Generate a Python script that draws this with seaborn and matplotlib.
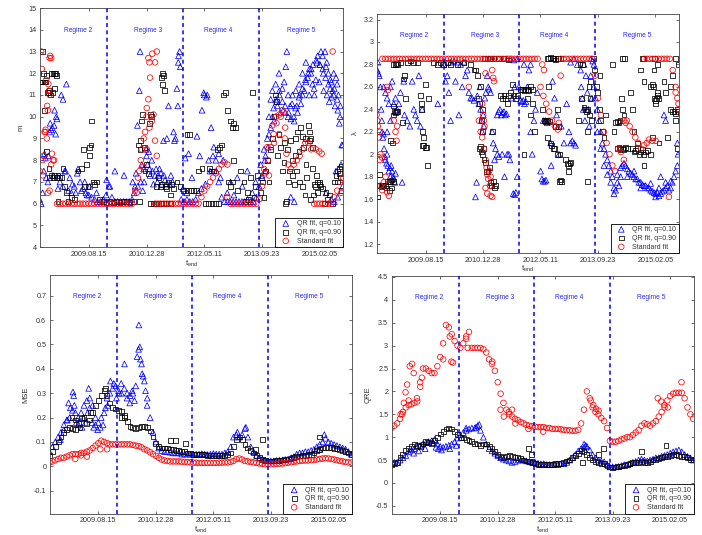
import numpy as np
import pandas as pd
import matplotlib
matplotlib.use("Agg")
import matplotlib.pyplot as plt
import seaborn as sns
from matplotlib.transforms import blended_transform_factory
from matplotlib.ticker import FuncFormatter

sns.set_theme(style="white")
plt.rcParams['font.family'] = ['Liberation Sans', 'DejaVu Sans']

# ---------------- data ----------------
# t_end in days relative to 2009.08.15, window ends sampled every 25 days
t_end = np.arange(-425, 2201, 25)
tick_days = [0, 500, 1000, 1500, 2000]
tick_labels = ['2009.08.15', '2010.12.28', '2012.05.11', '2013.09.23', '2015.02.05']
regime_bounds = [160, 812, 1475]
regime_names = ['Regime 2', 'Regime 3', 'Regime 4', 'Regime 5']
regime_centers = [-95, 518, 1120, 1837]
series_labels = ['QR fit, q=0.10', 'QR fit, q=0.90', 'Standard fit']

# ---- panel 1 : m ----
m_q10 = [6.2, 6.5, 8.1, 8.2, 9.4, 9.6, 9.9, 7.0, 6.8, 7.5,
         6.6, 6.5, 6.8, 7.4, 7.0, 6.7, 6.5, 6.4, 6.3, 6.2,
         6.1, 6.1, 6.2, 6.4, 6.8, 6.3, 6.1, 6.1, 6.1, 6.1,
         6.1, 6.1, 6.2, 6.8, 6.8, 7.0, 7.6, 8.2, 7.6, 7.5,
         7.3, 7.3, 7.4, 7.3, 6.9, 6.9, 7.0, 9.0, 12.5, 6.2,
         6.1, 6.2, 6.1, 6.1, 6.2, 6.5, 6.7, 11.0, 11.0, 7.5,
         8.2, 8.0, 7.0, 6.3, 6.1, 6.1, 6.1, 6.1, 6.1, 6.1,
         6.1, 6.1, 6.2, 6.1, 6.1, 6.3, 6.8, 7.3, 8.0, 8.6,
         9.5, 10.4, 10.7, 11.0, 11.3, 10.2, 10.0, 9.9, 10.0, 10.5,
         11.0, 11.3, 11.7, 12.0, 12.2, 11.3, 12.5, 12.4, 12.2, 11.8,
         11.5, 11.6, 11.3, 10.8, 10.0, 8.7]
m_q10_extra = [(-412, 6.0), (-389, 7.5), (-383, 8.3), (-368, 7.2), (-354, 7.0), (-339, 9.3), (-334, 9.7),
               (-316, 9.5), (-310, 7.3), (-296, 10.3), (-287, 9.2), (-281, 10.0), (-267, 6.7), (-258, 7.2),
               (-238, 11.0), (-223, 10.8), (-209, 7.5), (-194, 11.5), (-165, 7.2), (-142, 6.9), (-113, 6.5),
               (-93, 7.6), (-64, 6.6), (-35, 7.0), (-15, 6.4), (9, 6.8), (67, 6.5), (154, 7.1), (183, 6.8),
               (226, 7.5), (305, 7.3), (380, 7.0), (392, 6.5), (409, 7.4), (421, 9.6), (438, 11.2), (444, 13.0),
               (458, 7.8), (467, 6.6), (479, 7.0), (496, 8.5), (508, 7.8), (519, 8.4), (531, 7.3), (545, 8.0),
               (560, 6.9), (583, 7.6), (595, 7.0), (612, 7.6), (632, 6.9), (647, 8.9), (661, 7.1), (676, 9.0),
               (690, 10.5), (711, 7.3), (734, 9.3), (742, 8.9), (763, 11.3), (771, 10.5), (777, 12.8), (786, 13.0),
               (792, 12.3), (815, 6.7), (835, 8.1), (850, 6.5), (864, 8.3), (893, 7.2), (937, 9.1), (960, 8.2),
               (980, 10.3), (995, 11.1), (1009, 6.9), (1018, 10.9), (1038, 8.0), (1059, 9.5), (1082, 8.6),
               (1105, 7.5), (1125, 8.3), (1140, 7.2), (1163, 8.0), (1198, 6.5), (1227, 7.0), (1256, 6.4),
               (1285, 7.2), (1328, 6.8), (1372, 7.5), (1415, 6.5), (1444, 7.0), (1488, 7.8), (1517, 8.5),
               (1531, 7.5), (1546, 9.0), (1560, 10.0), (1575, 10.8), (1589, 11.2), (1604, 9.8), (1618, 11.5),
               (1633, 10.5), (1647, 12.0), (1662, 10.2), (1676, 10.7), (1691, 11.6), (1705, 12.3), (1714, 13.0),
               (1726, 11.0), (1743, 10.5), (1763, 11.0), (1778, 9.8), (1792, 11.2), (1807, 10.2), (1821, 11.5),
               (1836, 10.6), (1850, 12.0), (1865, 11.2), (1879, 12.5), (1894, 11.8), (1908, 11.0), (1923, 12.0),
               (1937, 11.5), (1952, 11.0), (1966, 11.7), (1981, 12.8), (1995, 11.6), (2010, 13.0), (2024, 12.8),
               (2033, 11.2), (2045, 13.0), (2053, 12.3), (2062, 11.0), (2074, 12.0), (2082, 10.7), (2091, 11.7),
               (2103, 10.9), (2111, 11.2), (2120, 12.0), (2132, 10.5), (2140, 11.8), (2155, 10.3), (2161, 11.0),
               (2169, 9.7), (2178, 10.5), (2184, 7.8), (2190, 8.7), (2198, 6.8), (2140, 7.5), (2097, 6.2),
               (2053, 6.5), (2126, 6.1), (2155, 6.3), (1749, 6.3), (1778, 6.1),
               (1500, 7.2), (1530, 8.2), (1560, 9.2), (1590, 10.0), (1620, 10.8), (1650, 11.2), (1700, 10.5),
               (1730, 10.2), (1760, 10.6), (1790, 10.4), (1820, 10.9), (1850, 11.0), (1880, 11.6), (1910, 12.2),
               (1940, 12.4), (1970, 12.6), (2000, 12.4), (2030, 12.0), (2060, 12.5), (2090, 11.3), (2120, 11.0),
               (2150, 11.5)]
m_q90_pts = [(-421, 11.6), (-409, 11.6), (-397, 11.6), (-386, 11.6), (-374, 11.6), (-403, 13.0), (-389, 12.0),
             (-383, 10.3), (-368, 11.9), (-360, 11.1), (-348, 11.1), (-339, 11.2), (-331, 11.0), (-322, 12.0),
             (-310, 12.0), (-299, 12.0), (-287, 12.0), (-276, 11.9), (-310, 11.1), (-296, 11.3), (-339, 7.2),
             (-325, 7.3), (-310, 7.2), (-296, 7.3), (-281, 7.2), (-267, 7.3), (-252, 7.2), (-238, 7.2),
             (-368, 8.4), (-345, 7.6), (-267, 6.1), (-223, 7.6), (-209, 6.8), (-194, 6.5), (-180, 6.1),
             (-151, 6.3), (-122, 6.2), (-93, 7.5), (-64, 7.6), (-35, 6.8), (-20, 7.8), (-6, 6.8), (3, 8.2),
             (9, 8.6), (20, 8.7), (26, 9.8), (38, 7.0), (52, 6.9), (67, 7.0), (-49, 8.5), (96, 6.2),
             (125, 6.1), (154, 6.05), (183, 6.1), (212, 6.05), (241, 6.1), (270, 6.05), (299, 6.1), (328, 6.1),
             (357, 6.05), (386, 6.1),
             (429, 8.7), (444, 8.5), (450, 8.9), (458, 9.8), (467, 10.1), (479, 8.6), (487, 7.5), (502, 7.8),
             (516, 7.4), (438, 6.1), (525, 9.7), (537, 10.1), (545, 10.0), (632, 11.8), (641, 12.0), (647, 11.9),
             (635, 11.5), (653, 11.2), (589, 6.8), (603, 7.2), (618, 6.8), (632, 6.9), (661, 6.8), (676, 6.7),
             (690, 7.0), (705, 6.4), (719, 6.9), (734, 6.7), (763, 7.0), (792, 6.8), (531, 6.0), (560, 6.0),
             (589, 6.0), (618, 6.0), (647, 6.0), (676, 6.0), (705, 6.0),
             (821, 6.6), (850, 6.6), (879, 6.6), (908, 6.6), (931, 6.6), (850, 9.2), (873, 9.2), (951, 7.5),
             (980, 7.6), (1009, 6.0), (1038, 6.0), (1067, 6.0), (1096, 6.0), (1125, 6.0), (1047, 7.6),
             (1059, 7.5), (1082, 7.5), (1111, 8.5), (1134, 8.6), (1146, 8.7), (1169, 11.0), (1183, 11.1),
             (1198, 10.3), (1227, 9.8), (1241, 9.5), (1256, 9.7), (1270, 9.5), (1256, 8.0), (1212, 7.0),
             (1227, 6.8), (1241, 7.0), (1285, 6.6), (1314, 7.5), (1343, 7.0), (1372, 6.5), (1401, 7.2),
             (1415, 11.1), (1430, 6.3), (1444, 6.8), (1459, 7.3), (1357, 6.1), (1386, 6.2),
             (1488, 6.5), (1502, 7.0), (1517, 6.3), (1531, 7.5), (1546, 8.0), (1560, 7.0), (1575, 8.5),
             (1589, 9.0), (1604, 10.0), (1618, 11.0), (1627, 10.7), (1633, 8.2), (1647, 9.2), (1662, 8.6),
             (1676, 7.5), (1691, 8.8), (1705, 6.0), (1714, 6.1), (1726, 7.0), (1734, 7.5), (1749, 8.9),
             (1763, 7.3), (1778, 6.9), (1792, 8.2), (1801, 7.5), (1807, 9.3), (1821, 7.0), (1836, 9.5),
             (1850, 6.8), (1859, 8.6), (1871, 6.4), (1879, 9.0), (1888, 7.2), (1900, 9.6), (1908, 8.9),
             (1917, 6.2), (1923, 9.0), (1937, 8.6), (1946, 6.4), (1952, 6.9), (1966, 6.8), (1981, 7.0),
             (1995, 6.9), (2010, 6.8), (2024, 6.7), (1981, 6.5), (2039, 6.0), (2053, 6.5), (2068, 6.2),
             (2082, 6.4), (2111, 6.0), (2126, 7.0), (2140, 7.3), (2155, 7.5), (2169, 7.6), (2178, 7.2),
             (2184, 7.7), (2190, 6.6), (1760, 8.0), (1790, 9.0), (1820, 8.4), (1850, 9.1), (1880, 7.8),
             (1910, 9.3), (1940, 7.6), (1970, 7.3), (2000, 7.0), (1720, 8.5), (1690, 7.9), (2150, 7.0),
             (2170, 7.4)]
m_std = [7.5, 8.0, 9.3, 11.5, 12.7, 8.0, 6.0, 6.0, 6.0, 6.0,
         6.0, 6.0, 6.0, 6.0, 6.0, 6.0, 6.0, 6.0, 6.0, 6.0,
         6.0, 6.0, 6.0, 6.0, 6.0, 6.0, 6.0, 6.0, 6.0, 6.0,
         6.0, 6.0, 6.0, 6.6, 7.2, 8.0, 9.0, 10.0, 12.5, 12.9,
         6.0, 6.0, 6.0, 6.0, 6.0, 6.0, 6.0, 6.0, 6.0, 6.0,
         6.0, 6.0, 6.0, 6.0, 6.0, 6.0, 6.3, 6.6, 6.8, 7.0,
         7.2, 7.4, 7.6, 7.8, 7.9, 7.8, 6.0, 6.0, 6.0, 6.0,
         6.0, 6.0, 6.0, 6.0, 6.0, 6.0, 6.2, 6.8, 7.4, 8.0,
         8.6, 9.2, 9.7, 10.1, 10.3, 9.5, 7.8, 7.6, 7.8, 8.0,
         8.2, 8.5, 8.8, 8.8, 8.5, 6.0, 6.0, 6.0, 6.0, 6.0,
         6.0, 6.0, 6.3, 6.6, 7.0, 7.2]
m_std_extra = [(-412, 13.0), (-406, 12.2), (-397, 7.3), (-392, 8.2), (-374, 9.4), (-368, 11.7), (-360, 10.5),
               (-354, 10.3), (-345, 11.2), (-339, 12.7), (-334, 12.8), (-325, 7.8), (-319, 8.3), (-354, 6.5),
               (-339, 6.6), (-383, 9.3), (-310, 8.0), (-339, 11.0), (-363, 9.0),
               (415, 6.5), (438, 7.5), (458, 8.5), (473, 7.7), (487, 9.3), (502, 10.4), (516, 10.8), (531, 11.8),
               (545, 9.8), (560, 10.1), (574, 8.9), (589, 8.2), (574, 12.5), (589, 13.0), (516, 12.7),
               (525, 9.5), (502, 8.5), (1198, 6.3),
               (1517, 7.6), (1546, 8.6), (1560, 7.3), (1589, 9.6), (1604, 8.8), (1618, 10.0), (1647, 9.2),
               (1662, 10.0), (1685, 10.2), (1697, 9.0), (1711, 8.3), (1966, 8.5), (1995, 8.4), (2016, 8.3),
               (2111, 13.0), (2184, 6.5)]

# ---- panel 2 : lambda ----
lam_q10_pts = [(-420, 2.75), (-415, 2.82), (-409, 2.72), (-403, 2.7), (-392, 2.6), (-386, 2.4), (-380, 2.3),
               (-377, 2.2), (-371, 2.15), (-365, 2.18), (-360, 2.05), (-354, 1.98), (-348, 1.95), (-339, 1.92),
               (-334, 2.0), (-328, 1.9), (-319, 1.85), (-310, 1.88), (-305, 1.8), (-299, 1.9), (-290, 1.85),
               (-281, 1.8), (-276, 1.78), (-267, 1.75), (-261, 1.83), (-363, 2.6), (-348, 2.55), (-334, 2.5),
               (-319, 2.45), (-305, 2.6), (-290, 2.65), (-276, 2.45), (-261, 2.5), (-247, 2.4), (-232, 2.45),
               (-218, 2.55), (-203, 1.75), (-189, 2.65), (-183, 2.35), (-160, 2.3), (-136, 2.25), (-116, 2.65),
               (-102, 2.4), (-87, 2.35), (-73, 2.3), (-58, 2.7), (-44, 2.25), (-29, 2.4), (107, 2.45),
               (160, 2.8), (174, 2.65), (189, 2.7), (203, 2.55), (218, 2.3), (-305, 2.3), (-334, 2.2),
               (218, 2.82), (247, 2.83), (276, 2.82), (305, 2.8), (334, 2.82), (363, 2.75), (261, 2.65),
               (290, 2.35), (319, 2.6), (348, 2.7), (377, 2.55), (392, 2.5), (406, 2.5), (421, 2.48),
               (435, 1.62), (444, 1.75), (450, 2.52), (464, 2.45), (473, 2.6), (479, 2.4), (487, 2.3),
               (493, 2.2), (502, 2.35), (508, 2.25), (516, 2.5), (525, 2.55), (537, 2.7), (546, 2.6),
               (554, 2.58), (566, 2.55), (580, 2.2), (589, 2.1), (600, 1.95), (609, 2.05), (624, 2.35),
               (635, 2.38), (647, 2.4), (658, 2.35), (670, 2.37), (682, 2.38), (693, 2.35), (705, 2.36),
               (624, 2.0), (638, 1.98), (667, 2.0), (687, 1.8), (711, 2.0), (725, 2.0), (734, 1.95),
               (711, 2.85), (740, 2.85), (769, 2.84), (798, 2.85), (754, 2.5), (775, 2.6), (763, 1.65),
               (775, 1.64), (786, 1.66), (798, 1.8), (812, 2.6), (827, 2.48), (838, 2.47), (850, 2.48),
               (861, 2.45), (873, 2.47), (885, 2.6), (899, 2.75), (914, 2.2), (928, 2.0), (943, 2.3),
               (957, 2.4), (856, 2.8), (914, 2.8), (972, 2.55),
               (1001, 1.85), (1012, 1.78), (1024, 1.76), (1036, 1.76), (1047, 1.77), (1024, 2.3), (1042, 2.3),
               (1059, 2.28), (1073, 2.3), (1088, 2.1), (1093, 1.9), (1105, 2.65), (1122, 2.5), (1140, 2.35),
               (1160, 2.0), (1180, 2.25), (1204, 2.1), (1227, 2.45), (1247, 2.2), (1262, 2.1), (1276, 2.12),
               (1291, 2.1), (1305, 2.08), (1262, 2.82), (1291, 2.85), (1320, 2.8), (1349, 2.75), (1354, 2.6),
               (1363, 2.5), (1372, 2.4), (1378, 2.8), (1386, 2.3), (1395, 2.7), (1407, 2.55), (1415, 2.4),
               (1424, 2.25), (1436, 2.7), (1447, 2.5), (1440, 2.85), (1455, 2.83), (1465, 2.8),
               (1465, 2.6), (1479, 2.5), (1494, 2.4), (1508, 2.3), (1523, 2.2), (1537, 2.1), (1552, 2.05),
               (1566, 2.0), (1581, 1.95), (1595, 1.9), (1610, 1.85), (1624, 1.8), (1639, 1.7), (1653, 1.68),
               (1668, 1.75), (1682, 1.72), (1494, 2.2), (1523, 2.05), (1552, 1.9), (1581, 1.82), (1610, 1.75),
               (1639, 1.65), (1668, 1.82), (1697, 1.88), (1711, 1.9), (1726, 1.92), (1740, 1.9), (1755, 1.87),
               (1769, 1.85), (1784, 1.83), (1798, 1.82), (1813, 1.8), (1827, 1.78), (1842, 1.78), (1856, 1.75),
               (1871, 1.75), (1885, 1.73), (1900, 1.72), (1914, 1.72), (1929, 1.7), (1943, 1.7), (1958, 1.68),
               (1972, 1.67), (1987, 1.66), (2001, 1.65), (2016, 1.66), (2030, 1.63), (2045, 1.65), (2059, 1.67),
               (2074, 1.68), (2088, 1.7), (2103, 1.72), (2117, 1.68), (2132, 1.7), (2146, 1.75), (2161, 1.8),
               (2175, 1.85), (2190, 1.9), (2045, 1.8), (2088, 1.75), (2132, 1.76), (2088, 2.3), (2074, 2.35),
               (2190, 2.1), (2196, 2.0), (2001, 1.62), (2030, 1.7), (1958, 1.74), (1871, 1.7), (1813, 1.85),
               (1755, 1.8), (1697, 1.8)]
lam_q90_pts = [(-420, 1.72), (-409, 1.72), (-397, 1.72), (-386, 1.71), (-374, 1.72), (-363, 1.72), (-351, 1.72),
               (-339, 1.7), (-328, 1.76), (-316, 1.76), (-305, 1.76), (-293, 1.77), (-281, 1.76), (-420, 1.62),
               (-403, 1.82), (-310, 1.68), (-293, 1.7), (-281, 2.43), (-270, 2.38), (-261, 2.37), (-252, 2.38),
               (-241, 2.38), (-281, 2.35), (-305, 2.12), (-287, 2.1), (-276, 2.8), (-264, 2.8), (-252, 2.81),
               (-241, 2.8), (-203, 2.28), (-194, 2.67), (-183, 2.7), (-174, 2.5), (-218, 2.82), (-160, 2.82),
               (-131, 2.83), (-102, 2.82), (-73, 2.82), (-44, 2.52), (-38, 2.45), (-32, 2.4), (-26, 2.2),
               (-20, 2.15), (-15, 2.08), (-3, 2.06), (9, 2.06), (20, 1.9), (29, 2.5), (3, 2.62), (-29, 2.08),
               (73, 2.82), (102, 2.8), (131, 2.82), (160, 2.8), (189, 2.82),
               (218, 2.8), (276, 2.8), (334, 2.82), (392, 2.8), (421, 2.75), (435, 2.75), (450, 2.7),
               (464, 2.5), (473, 2.45), (479, 2.6), (485, 2.3), (493, 2.2), (499, 2.4), (467, 2.05), (476, 2.07),
               (485, 2.02), (493, 2.0), (502, 2.05), (508, 1.95), (519, 1.93), (531, 1.85), (543, 1.85),
               (554, 1.88), (566, 1.75), (577, 1.72), (589, 1.76), (600, 1.7), (612, 1.72), (513, 2.85),
               (537, 2.85), (566, 2.85), (595, 2.85), (580, 2.2), (653, 2.52), (667, 2.5), (682, 2.52),
               (696, 2.5), (711, 2.45), (725, 2.52), (740, 2.55), (754, 2.62), (769, 2.52), (783, 2.5),
               (798, 2.52), (638, 2.85), (682, 2.85), (725, 2.84),
               (827, 2.58), (841, 2.58), (856, 2.57), (870, 2.58), (885, 2.58), (899, 2.57), (914, 2.6),
               (928, 2.58), (856, 2.0), (885, 2.5), (914, 2.35), (928, 2.45), (948, 2.2), (1030, 2.3),
               (1042, 2.29), (1053, 2.3), (1064, 2.3), (1076, 2.29), (1015, 2.4), (1059, 2.15), (1073, 2.6),
               (1088, 2.1), (1099, 2.08), (1111, 2.05), (1122, 2.05), (1059, 2.85), (1073, 2.85), (1088, 2.86),
               (1102, 2.85), (1117, 2.85), (1131, 2.84), (1146, 2.85), (1160, 2.85), (1175, 2.85), (1131, 2.25),
               (1146, 2.4), (1160, 2.25), (1151, 2.0), (1169, 2.0), (1163, 1.76), (1175, 1.77), (1186, 1.76),
               (1218, 1.95), (1233, 1.92), (1244, 1.9), (1256, 1.92), (1247, 1.85), (1262, 1.93),
               (1334, 2.3), (1343, 2.8), (1354, 2.5), (1363, 2.8), (1378, 2.42), (1389, 2.4), (1401, 2.38),
               (1412, 2.4), (1424, 2.35), (1407, 2.2), (1412, 1.76), (1421, 2.6), (1436, 2.65), (1430, 2.5),
               (1441, 2.3), (1459, 2.85), (1473, 2.75), (1488, 2.6), (1499, 2.55), (1511, 2.4), (1523, 2.3),
               (1537, 2.2), (1552, 2.15), (1517, 2.7), (1566, 2.35),
               (1624, 2.8), (1639, 2.2), (1653, 2.28), (1668, 2.29), (1682, 2.28), (1691, 2.3), (1668, 2.05),
               (1682, 2.06), (1697, 2.04), (1711, 2.05), (1726, 2.04), (1740, 2.06), (1755, 2.05), (1703, 2.5),
               (1711, 2.4), (1726, 2.35), (1711, 2.85), (1732, 2.85), (1784, 2.55), (1798, 2.4), (1813, 2.2),
               (1798, 2.05), (1813, 2.02), (1827, 2.03), (1842, 2.05), (1856, 2.0), (1871, 2.02), (1885, 2.04),
               (1900, 2.0), (1914, 2.02), (1929, 2.03), (1842, 2.1), (1871, 2.75), (1885, 2.85), (1894, 2.85),
               (1900, 2.65), (1900, 1.9), (1958, 2.6), (1972, 2.62), (1981, 2.6), (1987, 2.5), (2001, 2.48),
               (2010, 2.5), (2021, 2.52), (2030, 2.5), (2001, 2.45), (2016, 2.55), (1987, 2.75), (1992, 2.85),
               (2016, 2.8), (1972, 2.15), (1958, 2.0), (2030, 2.1), (2074, 2.65), (2088, 2.55), (2103, 2.15),
               (2132, 2.4), (2146, 2.38), (2161, 2.38), (2175, 2.36), (2190, 2.4), (2200, 2.38), (2175, 2.3),
               (2146, 2.7), (2175, 2.85), (2200, 2.8), (2190, 2.05), (2132, 2.6)]
lam_std = [2.35, 2.2, 2.85, 2.85, 2.85, 2.85, 2.85, 2.85, 2.85, 2.85,
           2.85, 2.85, 2.85, 2.85, 2.85, 2.85, 2.85, 2.85, 2.85, 2.85,
           2.85, 2.85, 2.85, 2.85, 2.85, 2.85, 2.85, 2.85, 2.85, 2.85,
           2.85, 2.85, 2.85, 2.85, 2.85, 2.85, 2.85, 2.85, 2.85, 2.85,
           2.85, 2.85, 2.85, 2.85, 2.85, 2.85, 2.85, 2.85, 2.85, 2.85,
           2.85, 2.85, 2.85, 2.85, 2.85, 2.85, 2.85, 2.6, 2.52, 2.45,
           2.38, 2.3, 2.25, 2.22, 2.85, 2.85, 2.85, 2.85, 2.85, 2.85,
           2.85, 2.85, 2.85, 2.85, 2.85, 2.85, 2.7, 2.5, 2.35, 2.2,
           2.1, 2.0, 1.9, 1.85, 2.05, 2.02, 1.95, 2.3, 2.25, 2.2,
           2.15, 2.1, 2.05, 2.85, 2.85, 2.85, 2.85, 2.85, 2.85, 2.85,
           2.85, 2.85, 2.85, 2.75, 2.6, 2.45]
lam_std_extra = [(-420, 2.3), (-415, 2.25), (-406, 2.15), (-397, 1.95), (-392, 1.72), (-377, 1.68), (-363, 1.75),
                 (-348, 1.8), (-334, 1.66), (-319, 1.63), (-334, 2.6), (-328, 2.57), (-276, 2.3), (-261, 2.2),
                 (-252, 2.12), (-247, 2.25), (-392, 2.0), (-377, 1.97),
                 (377, 2.6), (493, 2.45), (502, 2.35), (508, 2.3), (513, 2.25), (493, 2.15), (508, 2.05),
                 (522, 1.95), (531, 1.88), (537, 1.82), (546, 1.78), (554, 1.85), (566, 1.8), (560, 1.72),
                 (522, 1.7), (537, 1.65), (566, 1.63), (580, 1.62), (580, 2.75), (589, 2.68), (595, 2.65),
                 (464, 2.3), (479, 2.2), (522, 2.72),
                 (1015, 2.8), (1030, 2.75), (1175, 2.7), (1160, 2.28),
                 (1900, 2.08), (1923, 2.1), (1943, 2.13), (1972, 2.12), (2001, 2.12), (2117, 1.62),
                 (2175, 2.55), (2190, 2.5), (2200, 2.4), (1726, 2.3), (1740, 2.28)]

# ---- panel 3 : MSE ----
mse_q10 = [0.06, 0.08, 0.1, 0.12, 0.14, 0.17, 0.19, 0.2, 0.23, 0.22,
           0.2, 0.22, 0.25, 0.27, 0.28, 0.25, 0.2, 0.18, 0.2, 0.22,
           0.28, 0.3, 0.32, 0.33, 0.31, 0.3, 0.32, 0.3, 0.29, 0.3,
           0.33, 0.48, 0.42, 0.35, 0.28, 0.2, 0.14, 0.1, 0.075, 0.065,
           0.06, 0.06, 0.058, 0.055, 0.055, 0.055, 0.05, 0.05, 0.05, 0.05,
           0.05, 0.05, 0.05, 0.052, 0.05, 0.048, 0.05, 0.052, 0.05, 0.05,
           0.05, 0.055, 0.06, 0.08, 0.12, 0.13, 0.12, 0.13, 0.155, 0.12,
           0.08, 0.06, 0.045, 0.035, 0.03, 0.025, 0.022, 0.022, 0.022, 0.024,
           0.025, 0.026, 0.028, 0.03, 0.035, 0.04, 0.05, 0.055, 0.055, 0.06,
           0.06, 0.065, 0.07, 0.08, 0.09, 0.1, 0.115, 0.1, 0.095, 0.09,
           0.085, 0.08, 0.075, 0.07, 0.06, 0.05]
mse_q10_extra = [(-259, 0.26), (-244, 0.24), (-221, 0.305), (-215, 0.29), (-209, 0.25), (-192, 0.18),
                 (-172, 0.17), (-142, 0.16), (-128, 0.2), (-113, 0.18), (-93, 0.22), (-84, 0.32), (-76, 0.24),
                 (-55, 0.18), (-40, 0.16), (-26, 0.17), (-6, 0.15), (17, 0.16), (41, 0.17), (61, 0.24),
                 (81, 0.25), (105, 0.35), (134, 0.34), (157, 0.28), (180, 0.3), (198, 0.34), (227, 0.42),
                 (250, 0.28), (273, 0.26), (294, 0.31), (314, 0.27), (337, 0.45), (352, 0.58), (360, 0.49),
                 (366, 0.44), (381, 0.38), (390, 0.37), (410, 0.31), (424, 0.25), (1209, 0.14), (1282, 0.16),
                 (1922, 0.07), (1965, 0.13), (-270, 0.19), (-300, 0.15), (-330, 0.11)]
mse_q90 = [0.045, 0.06, 0.08, 0.1, 0.12, 0.14, 0.15, 0.16, 0.155, 0.15,
           0.175, 0.195, 0.2, 0.175, 0.19, 0.22, 0.25, 0.27, 0.29, 0.31,
           0.29, 0.26, 0.24, 0.235, 0.23, 0.225, 0.21, 0.185, 0.165, 0.16,
           0.155, 0.16, 0.165, 0.165, 0.16, 0.145, 0.12, 0.095, 0.08, 0.075,
           0.075, 0.075, 0.07, 0.07, 0.065, 0.065, 0.06, 0.06, 0.055, 0.055,
           0.05, 0.05, 0.05, 0.048, 0.047, 0.046, 0.046, 0.046, 0.045, 0.045,
           0.045, 0.046, 0.048, 0.055, 0.08, 0.11, 0.12, 0.11, 0.09, 0.075,
           0.065, 0.055, 0.045, 0.035, 0.028, 0.024, 0.022, 0.022, 0.022, 0.024,
           0.025, 0.026, 0.028, 0.03, 0.033, 0.036, 0.04, 0.042, 0.044, 0.046,
           0.048, 0.05, 0.055, 0.065, 0.07, 0.075, 0.077, 0.078, 0.076, 0.074,
           0.072, 0.07, 0.066, 0.06, 0.055, 0.05]
mse_q90_extra = [(628, 0.105), (672, 0.105), (759, 0.095), (1369, 0.07), (1427, 0.11), (1922, 0.12),
                 (-230, 0.2), (-200, 0.19), (-160, 0.16), (-70, 0.22), (60, 0.32), (200, 0.2), (230, 0.2)]
mse_std = [0.015, 0.02, 0.025, 0.03, 0.035, 0.035, 0.04, 0.045, 0.05, 0.05,
           0.05, 0.055, 0.055, 0.06, 0.065, 0.075, 0.085, 0.095, 0.105, 0.1,
           0.095, 0.09, 0.09, 0.09, 0.09, 0.09, 0.09, 0.09, 0.09, 0.088,
           0.085, 0.083, 0.078, 0.07, 0.065, 0.058, 0.05, 0.043, 0.035, 0.028,
           0.024, 0.022, 0.02, 0.02, 0.02, 0.02, 0.019, 0.018, 0.017, 0.016,
           0.015, 0.015, 0.014, 0.014, 0.014, 0.014, 0.014, 0.014, 0.014, 0.015,
           0.015, 0.016, 0.016, 0.018, 0.022, 0.03, 0.032, 0.028, 0.022, 0.02,
           0.018, 0.016, 0.014, 0.012, 0.01, 0.008, 0.008, 0.008, 0.009, 0.01,
           0.011, 0.012, 0.013, 0.015, 0.017, 0.019, 0.02, 0.022, 0.023, 0.024,
           0.024, 0.025, 0.026, 0.028, 0.03, 0.032, 0.033, 0.032, 0.03, 0.028,
           0.025, 0.022, 0.02, 0.018, 0.016, 0.015]
mse_std_extra = [(-201, 0.03), (17, 0.07), (76, 0.07), (-150, 0.045), (-100, 0.04)]

# ---- panel 4 : QRE ----
qre_q10 = [0.42, 0.45, 0.45, 0.5, 0.55, 0.6, 0.68, 0.72, 0.75, 0.8,
           0.82, 0.85, 0.88, 0.9, 0.92, 0.95, 0.85, 0.8, 0.78, 0.8,
           0.82, 0.85, 0.9, 0.98, 1.05, 1.1, 1.15, 1.18, 1.2, 1.2,
           1.25, 1.15, 1.0, 0.85, 0.75, 0.7, 0.65, 0.6, 0.55, 0.52,
           0.5, 0.48, 0.45, 0.47, 0.5, 0.5, 0.5, 0.48, 0.47, 0.45,
           0.45, 0.43, 0.42, 0.42, 0.4, 0.4, 0.4, 0.4, 0.4, 0.42,
           0.42, 0.45, 0.5, 0.55, 0.62, 0.7, 0.75, 0.78, 0.8, 0.72,
           0.62, 0.55, 0.5, 0.48, 0.46, 0.4, 0.35, 0.35, 0.35, 0.36,
           0.38, 0.4, 0.4, 0.42, 0.45, 0.47, 0.5, 0.52, 0.5, 0.48,
           0.5, 0.52, 0.55, 0.55, 0.58, 0.6, 0.62, 0.65, 0.68, 0.7,
           0.72, 0.68, 0.62, 0.58, 0.55, 0.5]
qre_q10_extra = [(-37, 0.78), (-17, 0.75), (11, 0.72), (83, 0.75), (140, 0.82), (-60, 0.88), (1265, 0.82),
                 (1251, 0.85), (-131, 0.75), (-188, 0.7), (-231, 0.65), (225, 1.2), (311, 1.22), (339, 1.28)]
qre_q90 = [0.4, 0.42, 0.45, 0.55, 0.62, 0.7, 0.75, 0.8, 0.85, 0.82,
           0.8, 0.85, 0.9, 0.88, 0.87, 0.92, 1.0, 1.07, 1.13, 1.18,
           1.2, 1.18, 1.12, 1.05, 1.0, 0.98, 0.95, 0.92, 0.9, 0.87,
           0.85, 0.82, 0.85, 0.85, 0.8, 0.75, 0.68, 0.62, 0.58, 0.55,
           0.58, 0.6, 0.58, 0.55, 0.55, 0.53, 0.5, 0.48, 0.47, 0.45,
           0.42, 0.41, 0.4, 0.4, 0.4, 0.4, 0.4, 0.42, 0.42, 0.42,
           0.45, 0.48, 0.5, 0.55, 0.6, 0.65, 0.7, 0.68, 0.62, 0.55,
           0.5, 0.47, 0.45, 0.43, 0.42, 0.38, 0.35, 0.34, 0.35, 0.36,
           0.37, 0.38, 0.4, 0.42, 0.44, 0.45, 0.45, 0.46, 0.44, 0.45,
           0.47, 0.5, 0.52, 0.54, 0.56, 0.58, 0.58, 0.6, 0.62, 0.62,
           0.6, 0.58, 0.57, 0.55, 0.52, 0.5]
qre_q90_extra = [(767, 0.75), (795, 0.62), (1237, 0.45), (1379, 0.62), (1422, 0.75), (1750, 0.68), (1964, 0.82)]
qre_std = [1.2, 1.25, 1.3, 1.4, 1.55, 1.65, 1.7, 1.72, 1.75, 1.78,
           2.2, 2.5, 2.5, 2.45, 2.4, 2.4, 2.55, 2.75, 3.05, 3.45,
           3.4, 3.25, 3.1, 3.0, 2.95, 3.05, 3.15, 3.3, 2.95, 2.95,
           2.95, 2.95, 2.92, 2.85, 2.7, 2.6, 2.45, 2.2, 1.95, 1.75,
           1.6, 1.5, 1.45, 1.4, 1.37, 1.33, 1.3, 1.27, 1.25, 1.24,
           1.23, 1.22, 1.22, 1.22, 1.2, 1.2, 1.18, 1.18, 1.18, 1.17,
           1.16, 1.15, 1.15, 1.14, 1.14, 1.16, 1.3, 1.6, 2.0, 1.85,
           1.65, 1.55, 1.5, 1.42, 1.35, 1.2, 0.92, 0.9, 0.9, 0.92,
           0.95, 0.97, 1.0, 1.0, 1.05, 1.1, 1.15, 1.25, 1.3, 1.28,
           1.25, 1.3, 1.35, 1.45, 1.55, 1.65, 1.8, 1.9, 1.95, 1.97,
           1.97, 1.97, 1.85, 1.65, 1.5, 1.4]
qre_std_extra = [(-345, 1.5), (-316, 1.75), (-302, 1.98), (-288, 2.15), (-265, 2.55), (-245, 2.6), (-202, 1.85),
                 (-174, 2.1), (-160, 2.3), (-231, 2.4), (-274, 1.8), (-331, 1.5), (26, 2.7), (83, 3.2),
                 (97, 2.65), (111, 2.63), (239, 2.95), (225, 3.2), (453, 2.65), (524, 1.6), (553, 1.45),
                 (596, 1.55), (653, 1.3), (624, 1.6), (1308, 1.8), (1331, 1.7), (1354, 1.62), (1377, 1.58),
                 (1892, 1.85), (1921, 1.78), (1949, 1.7), (1978, 1.65), (2098, 2.2), (767, 1.18), (895, 1.12)]

for arr in (m_q10, m_std, lam_std, mse_q10, mse_q90, mse_std, qre_q10, qre_q90, qre_std):
    assert len(arr) == len(t_end), len(arr)

# ---------------- drawing ----------------
fig = plt.figure(figsize=(7.02, 5.35), dpi=100)
ax1 = fig.add_axes([0.057, 0.538, 0.432, 0.447])
ax2 = fig.add_axes([0.537, 0.527, 0.430, 0.447])
ax3 = fig.add_axes([0.071, 0.040, 0.430, 0.446])
ax4 = fig.add_axes([0.558, 0.040, 0.430, 0.444])

styles = [('^', 'blue', 17), ('s', 'black', 12), ('o', 'red', 16)]
txt_color = '#333333'


def combine(main, extra):
    xs, ys = [], []
    if main is not None:
        xs += list(t_end)
        ys += list(main)
    if extra:
        ex = np.array(extra, dtype=float)
        xs += list(ex[:, 0])
        ys += list(ex[:, 1])
    return pd.DataFrame({'t_end': xs, 'value': ys})


def panel(ax, series, ylim, yticks, ylabel):
    for (marker, color, size), label, df in zip(styles, series_labels, series):
        sns.scatterplot(data=df, x='t_end', y='value', ax=ax, marker=marker,
                        color=color, facecolor='none', edgecolor=color,
                        s=size, linewidth=0.55, label=label, legend=False, zorder=2)
    for b in regime_bounds:
        ax.axvline(b, color='blue', lw=1.1, ls=(0, (2.6, 2.2)), zorder=3)
    tr = blended_transform_factory(ax.transData, ax.transAxes)
    for name, c in zip(regime_names, regime_centers):
        ax.text(c, 0.908, name, transform=tr, color='#2a2aff', fontsize=4.8,
                ha='center', va='center')
    ax.set_xlim(-422, 2203)
    ax.set_ylim(*ylim)
    ax.set_xticks(tick_days)
    ax.set_xticklabels(tick_labels)
    ax.set_yticks(yticks)
    ax.yaxis.set_major_formatter(FuncFormatter(lambda v, p: '%g' % round(v, 4)))
    ax.tick_params(which='both', direction='in', length=2.5, width=0.5,
                   top=True, right=True, bottom=True, left=True,
                   labelsize=5.2, colors=txt_color, pad=2.5)
    for sp in ax.spines.values():
        sp.set_linewidth(0.6)
        sp.set_color('#444444')
        sp.set_visible(True)
    ax.set_xlabel(r'$\mathregular{t_{end}}$', fontsize=5.8, color=txt_color, labelpad=0.5)
    ax.set_ylabel(ylabel, fontsize=5.5, color=txt_color, labelpad=3)
    leg = ax.legend(loc='lower right', fontsize=5, frameon=True, fancybox=False,
                    framealpha=1, borderaxespad=0.0, handletextpad=0.4, borderpad=0.35,
                    labelspacing=0.25, handlelength=2.4, scatterpoints=1)
    leg.get_frame().set_linewidth(0.6)
    leg.get_frame().set_edgecolor('black')
    for t in leg.get_texts():
        t.set_color(txt_color)


panel(ax1, [combine(m_q10, m_q10_extra), combine(None, m_q90_pts), combine(m_std, m_std_extra)],
      (4, 15), [4, 5, 6, 7, 8, 9, 10, 11, 12, 13, 14, 15], 'm')
panel(ax2, [combine(None, lam_q10_pts), combine(None, lam_q90_pts), combine(lam_std, lam_std_extra)],
      (1.12, 3.25), [1.2, 1.4, 1.6, 1.8, 2.0, 2.2, 2.4, 2.6, 2.8, 3.0, 3.2], 'λ')
panel(ax3, [combine(mse_q10, mse_q10_extra), combine(mse_q90, mse_q90_extra), combine(mse_std, mse_std_extra)],
      (-0.194, 0.785), [-0.1, 0, 0.1, 0.2, 0.3, 0.4, 0.5, 0.6, 0.7], 'MSE')
panel(ax4, [combine(qre_q10, qre_q10_extra), combine(qre_q90, qre_q90_extra), combine(qre_std, qre_std_extra)],
      (-0.67, 4.52), [-0.5, 0, 0.5, 1, 1.5, 2, 2.5, 3, 3.5, 4, 4.5], 'QRE')

fig.savefig('out.png', dpi=100)
